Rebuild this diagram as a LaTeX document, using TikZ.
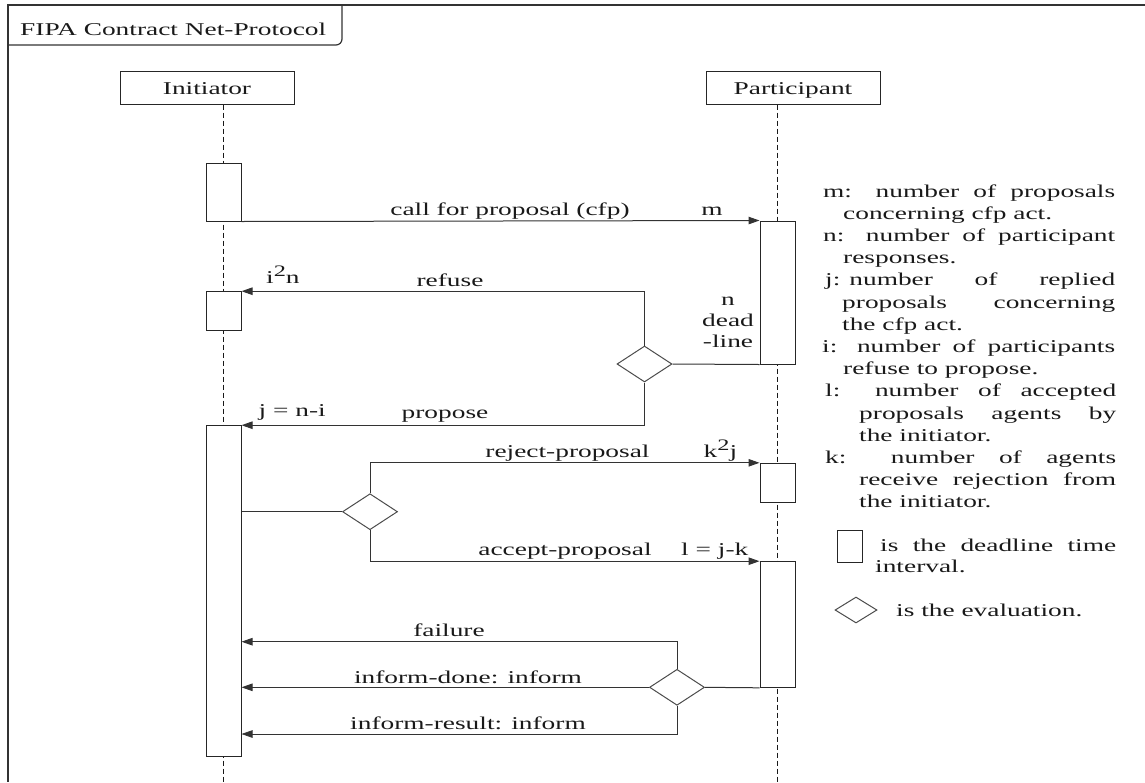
\documentclass[tikz,border=0pt]{standalone}
\usepackage{fontspec}
\setmainfont{Liberation Serif}[FakeStretch=1.52]
\usetikzlibrary{arrows.meta,shapes.geometric}
\newcommand\dgfont{\fontsize{18pt}{21pt}\selectfont}
\newcommand\upnum[1]{\raisebox{7pt}{\fontsize{16pt}{16pt}\selectfont #1}}
\begin{document}
\begin{tikzpicture}[x=1pt,y=-1pt,
  every node/.style={font=\dgfont, inner sep=0pt, text=black!90},
  ln/.style={line width=1pt, draw=black!80},
  msg/.style={ln, -{Triangle[length=11pt,width=7.5pt]}},
  frameln/.style={line width=1.2pt, draw=black!80},
  lifebox/.style={draw=black!85, line width=1pt, fill=white, minimum width=174pt, minimum height=33pt, text height=13pt, text depth=0pt},
  actbox/.style={draw=black!85, line width=1pt, fill=white, minimum width=35pt},
  lifeln/.style={line width=1.3pt, draw=black!90, dash pattern=on 5pt off 3pt},
  decision/.style={diamond, draw=black!70, line width=1pt, fill=white, minimum width=55pt, minimum height=36pt, inner sep=0pt},
  lbl/.style={anchor=base},
  lblw/.style={anchor=base west}]
\useasboundingbox (0,0) rectangle (1145,782);
% frame
\draw[frameln] (1145,5) -- (8,5) -- (8,782);
\draw[frameln, rounded corners=6pt] (8,45) -- (342,45) -- (342,5);
\node[lblw] (title) at (20,35) {FIPA Contract Net-Protocol};
% lifeline heads
\node[lifebox] (ini) at (207,87.5) {Initiator};
\node[lifebox] (par) at (793,87.5) {Participant};
\coordinate (iniend) at (223.5,782);
\coordinate (parend) at (777.5,782);
\draw[lifeln] (ini.south -| iniend) -- (iniend);
\draw[lifeln] (par.south -| parend) -- (parend);
% activation boxes
\node[actbox, minimum height=58pt] (a1) at (223.5,192) {};
\node[actbox, minimum height=38.3pt] (a2) at (223.5,310.85) {};
\node[actbox, minimum height=330.3pt] (a3) at (223.5,590.85) {};
\node[actbox, minimum height=143pt] (p1) at (777.5,292.5) {};
\node[actbox, minimum height=39.4pt] (p2) at (777.5,483) {};
\node[actbox, minimum height=125.6pt] (p3) at (777.5,624.5) {};
% decisions
\node[decision] (d1) at (644.5,364) {};
\node[decision] (d2) at (370,511.7) {};
\node[decision] (d3) at (677,687.3) {};
\coordinate (failrow) at (0,641.7);
\coordinate (resrow) at (0,734);
% connectors
\draw[msg] (a1.south east) -- (p1.north west);
\draw[ln] (d1.east) -- (p1.south west);
\draw[msg] (d1.north) |- (a2.north east);
\draw[msg] (d1.south) |- (a3.north east);
\draw[ln] (a3.east |- d2.west) -- (d2.west);
\draw[msg] (d2.north) |- (p2.north west);
\draw[msg] (d2.south) |- (p3.north west);
\draw[ln] (d3.east) -- (p3.south west);
\draw[msg] (d3.north) |- (failrow -| a3.east);
\draw[msg] (d3.west) -- (d3.west -| a3.east);
\draw[msg, line width=0.8pt] (d3.south) |- (resrow -| a3.east);
% message labels
\node[lbl] (lcall) at (510,215) {call for proposal (cfp)};
\node[lbl] (lm) at (712,215) {m};
\node[lbl] (lref) at (450,286) {refuse};
\node[lblw] (li) at (266,283) {i\upnum{2}n};
\node[lbl, align=center] (lnd) at (728,347) {n\\dead\\-line};
\node[lbl] (lprop) at (445,418) {propose};
\node[lblw] (lj) at (258.5,416.7) {j = n-i};
\node[lbl] (lrej) at (567.5,457) {reject-proposal};
\node[lblw] (lk) at (703.5,457) {k\upnum{2}j};
\node[lbl] (lacc) at (565,555.7) {accept-proposal};
\node[lblw] (ll) at (681,555.7) {l = j-k};
\node[lbl] (lfail) at (449,636) {failure};
\node[lbl] (ldone) at (468,683) {inform-done: inform};
\node[lbl] (lres) at (468,729) {inform-result: inform};
% legend
\node[lblw] (g1) at (823,197) {\makebox[292pt][s]{m: number of proposals}};
\node[lblw] (g2) at (843,219.2) {concerning cfp act.};
\node[lblw] (g3) at (823,241.4) {\makebox[292pt][s]{n: number of participant}};
\node[lblw] (g4) at (843,263.6) {responses.};
\node[lblw] (g5) at (825,285.8) {\makebox[290pt][s]{j:\hspace{9pt}number of replied}};
\node[lblw] (g6) at (842,308) {\makebox[273pt][s]{proposals concerning}};
\node[lblw] (g7) at (842,330.2) {the cfp act.};
\node[lblw] (g8) at (822,352.4) {\makebox[293pt][s]{i: number of participants}};
\node[lblw] (g9) at (843,374.6) {refuse to propose.};
\node[lblw] (g10) at (825,396.8) {\makebox[291pt][s]{l: number of accepted}};
\node[lblw] (g11) at (859,419) {\makebox[257pt][s]{proposals agents by}};
\node[lblw] (g12) at (859,441.2) {the initiator.};
\node[lblw] (g13) at (825,463.4) {\makebox[291pt][s]{k: number of agents}};
\node[lblw] (g14) at (859,485.6) {\makebox[257pt][s]{receive rejection from}};
\node[lblw] (g15) at (859,507.8) {the initiator.};
\node[draw=black!85, line width=1pt, minimum width=25pt, minimum height=32pt] (lrect) at (849.5,546) {};
\node[lblw] (g16) at (880,551) {\makebox[236pt][s]{is the deadline time}};
\node[lblw] (g17) at (875,572) {interval.};
\node[decision, minimum width=42pt, minimum height=26pt] (ldia) at (856,610) {};
\node[lblw] (g18) at (896,616) {is the evaluation.};
\end{tikzpicture}
\end{document}
